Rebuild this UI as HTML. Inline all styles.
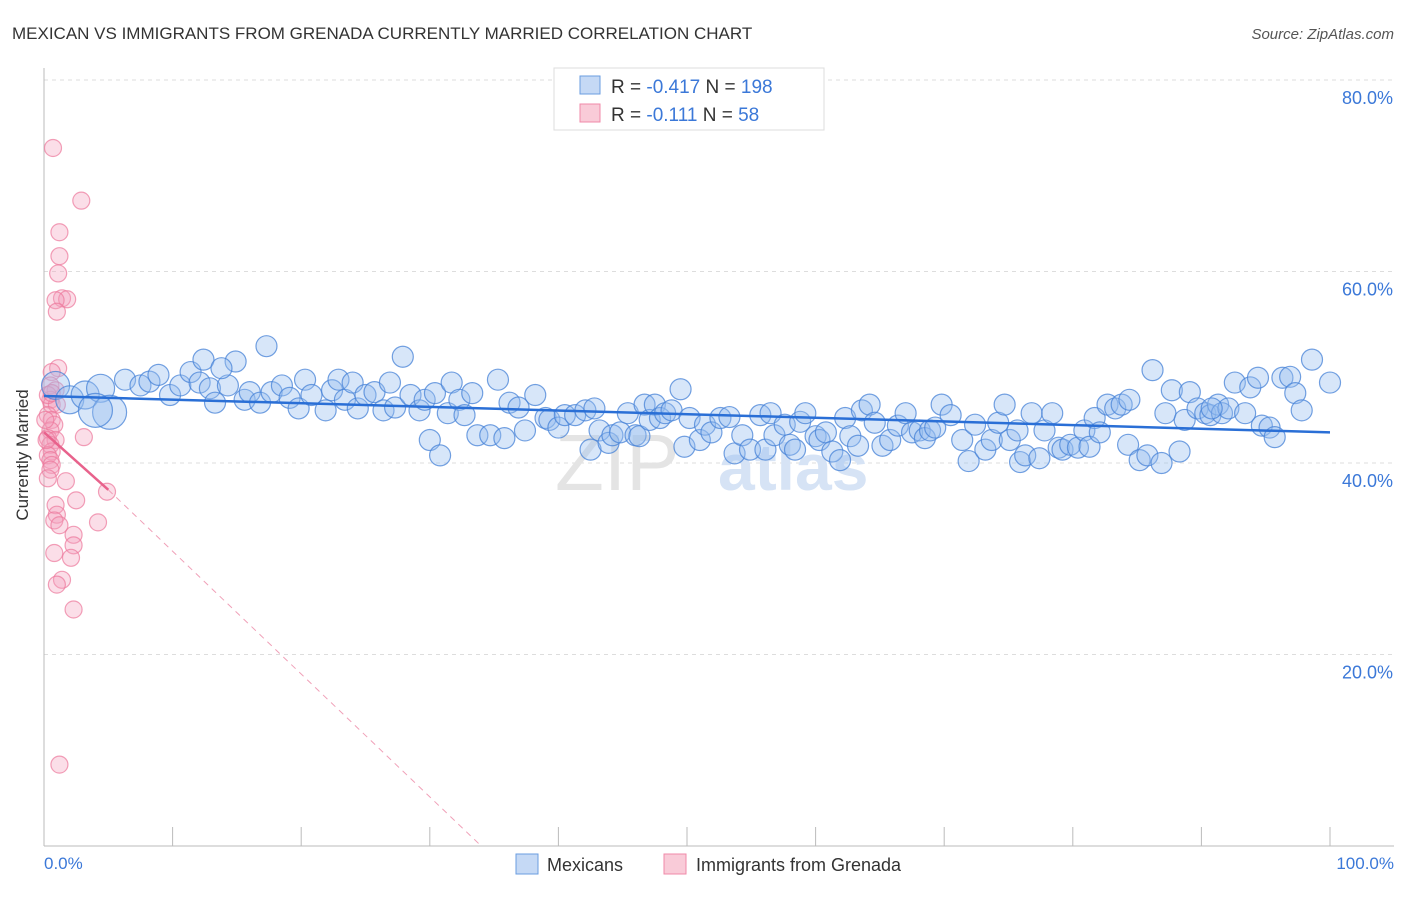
<!DOCTYPE html>
<html><head><meta charset="utf-8"><style>
body{margin:0;background:#fff;font-family:"Liberation Sans",sans-serif}
svg text{font-family:"Liberation Sans",sans-serif}
</style></head><body>
<svg id="chart" width="1406" height="892" xmlns="http://www.w3.org/2000/svg">
<text x="12" y="39" font-size="17" fill="#333">MEXICAN VS IMMIGRANTS FROM GRENADA CURRENTLY MARRIED CORRELATION CHART</text>
<text x="1394" y="39" font-size="15" fill="#555" font-style="italic" text-anchor="end">Source: ZipAtlas.com</text>
<g id="grid"></g>
<text x="555" y="490" font-size="80" fill="#e4e4e4" font-family="Liberation Serif">ZIP</text>
<text x="718" y="490" font-size="66" fill="#d6e3f5" font-weight="bold">atlas</text>
<g id="axes"></g>
<g id="pink"></g>
<g id="blue"></g>
<g id="trends"></g>
<text x="28" y="455" font-size="17" fill="#333" text-anchor="middle" transform="rotate(-90 28 455)">Currently Married</text>
<text x="44" y="869" font-size="17" fill="#3b78d8">0.0%</text>
<text x="1394" y="869" font-size="17" fill="#3b78d8" text-anchor="end">100.0%</text>
<g>
<rect x="554" y="68" width="270" height="62" fill="#fff" stroke="#ddd"/>
<rect x="580" y="76" width="20" height="18" fill="#c5d9f5" stroke="#6a9de0"/>
<rect x="580" y="104" width="20" height="18" fill="#f9cbd8" stroke="#f08aa8"/>
<text x="611" y="93" font-size="19" fill="#333">R = <tspan fill="#3b78d8">-0.417</tspan>   N = <tspan fill="#3b78d8">198</tspan></text>
<text x="611" y="121" font-size="19" fill="#333">R =  <tspan fill="#3b78d8">-0.111</tspan>   N =  <tspan fill="#3b78d8">58</tspan></text>
</g>
<g>
<rect x="516" y="854" width="22" height="20" fill="#c5d9f5" stroke="#6a9de0"/>
<text x="547" y="871" font-size="18" fill="#333">Mexicans</text>
<rect x="664" y="854" width="22" height="20" fill="#f9cbd8" stroke="#f08aa8"/>
<text x="696" y="871" font-size="18" fill="#333">Immigrants from Grenada</text>
</g>
</svg>
<script>
const yTicks=[20,40,60,80];
const yTickLabels=["20.0%","40.0%","60.0%","80.0%"];
const xTicks=[0,10,20,30,40,50,60,70,80,90,100];
const blueData=[[0.9,48.1],[2.0,46.6],[3.2,47.1],[4.4,47.8],[5.1,45.3],[4.0,45.5],[6.3,48.7],[7.5,48.1],[8.2,48.5],[8.9,49.2],[9.8,47.1],[10.6,48.1],[11.4,49.5],[12.1,48.4],[12.4,50.8],[12.9,47.8],[13.3,46.3],[14.3,48.1],[14.9,50.6],[13.8,49.9],[15.6,46.6],[16.0,47.4],[16.8,46.3],[17.3,52.2],[17.7,47.4],[18.5,48.1],[19.1,46.8],[19.8,45.7],[20.3,48.7],[20.8,47.1],[21.9,45.5],[22.4,47.6],[22.9,48.7],[23.4,46.6],[24.0,48.4],[24.4,45.7],[25.0,47.1],[25.7,47.4],[26.4,45.5],[26.9,48.4],[27.3,45.8],[27.9,51.1],[28.5,47.1],[29.2,45.5],[29.6,46.6],[30.0,42.4],[30.4,47.3],[30.8,40.8],[31.4,45.2],[31.7,48.4],[32.3,46.6],[32.7,45.0],[33.3,47.3],[33.7,42.9],[34.7,42.9],[35.3,48.7],[35.8,42.6],[36.2,46.3],[36.9,45.8],[37.4,43.4],[38.2,47.1],[39.0,44.7],[39.3,44.5],[40.0,43.7],[40.5,45.0],[41.3,45.0],[42.1,45.5],[42.5,41.4],[42.8,45.7],[43.2,43.4],[43.9,42.1],[44.2,42.9],[44.8,43.2],[45.4,45.2],[46.0,42.9],[46.3,42.8],[46.7,46.1],[47.1,44.5],[47.5,46.1],[47.9,44.7],[48.3,45.2],[48.8,45.5],[49.5,47.7],[49.8,41.7],[50.2,44.7],[51.0,42.4],[51.4,44.0],[51.9,43.2],[52.6,44.7],[53.3,44.8],[53.7,41.0],[54.3,42.9],[54.9,41.4],[55.7,45.0],[56.1,41.4],[56.5,45.2],[56.8,42.9],[57.6,44.0],[58.0,41.9],[58.4,41.4],[58.8,44.3],[59.2,45.2],[60.0,42.8],[60.3,42.4],[60.8,43.2],[61.3,41.2],[61.9,40.3],[62.3,44.7],[62.7,42.8],[63.3,41.8],[63.6,45.5],[64.2,46.1],[64.6,44.2],[65.2,41.8],[65.8,42.4],[66.4,43.9],[67.0,45.2],[67.5,43.2],[68.1,43.4],[68.5,42.6],[68.9,43.4],[69.3,43.7],[69.8,46.1],[70.5,45.0],[71.4,42.4],[71.9,40.2],[72.4,44.0],[73.2,41.4],[73.7,42.4],[74.2,44.2],[74.7,46.1],[75.1,42.4],[75.7,43.4],[75.9,40.1],[76.3,40.8],[76.8,45.2],[77.4,40.5],[77.8,43.4],[78.4,45.2],[78.9,41.6],[79.2,41.4],[79.8,41.9],[80.4,41.6],[80.9,43.4],[81.3,41.7],[81.7,44.7],[82.1,43.2],[82.7,46.1],[83.3,45.7],[83.8,46.1],[84.4,46.6],[84.3,41.9],[85.2,40.3],[85.8,40.8],[86.2,49.7],[86.9,40.0],[87.2,45.2],[87.7,47.6],[88.3,41.2],[88.7,44.5],[89.1,47.4],[89.7,45.7],[90.3,45.2],[90.7,45.0],[91.3,46.1],[91.6,45.2],[92.1,45.7],[92.6,48.4],[93.4,45.2],[93.8,47.9],[94.4,48.9],[94.7,43.9],[95.3,43.7],[95.7,42.7],[96.3,48.9],[96.9,49.0],[97.3,47.3],[97.8,45.5],[98.6,50.8],[100,48.4],[90.8,45.7]];
const pinkData=[[0.7,72.9],[2.9,67.4],[1.2,64.1],[1.2,61.6],[1.1,59.8],[1.4,57.2],[1.8,57.1],[0.9,57.0],[1.0,55.8],[1.1,49.9],[0.6,49.5],[0.5,48.1],[0.9,47.6],[0.5,46.6],[0.6,46.1],[1.0,46.1],[0.3,45.0],[0.6,44.5],[0.8,44.0],[0.5,43.4],[0.3,42.6],[0.9,42.4],[0.5,41.9],[0.6,41.2],[0.3,40.8],[0.5,40.3],[0.6,39.8],[0.5,39.3],[0.3,38.4],[3.1,42.7],[1.7,38.1],[4.9,37.0],[2.5,36.1],[0.9,35.6],[1.0,34.6],[0.8,34.0],[1.2,33.5],[4.2,33.8],[2.3,32.5],[2.3,31.4],[0.8,30.6],[2.1,30.1],[1.4,27.8],[1.0,27.3],[2.3,24.7],[1.2,8.5],[0.1,44.5],[0.2,42.4],[0.3,47.1],[0.6,47.3]];
const blueTrend=[[0,47.0],[100,43.2]];
const pinkTrendSolid=[[0,43.2],[5,37.2]];
const pinkTrendDash=[[5,37.2],[34,0]];
const X=v=>44+v*12.86, Y=v=>846-v*9.575;
const NS="http://www.w3.org/2000/svg";
function mk(tag,attrs,parent){const e=document.createElementNS(NS,tag);for(const k in attrs)e.setAttribute(k,attrs[k]);parent.appendChild(e);return e;}
const grid=document.getElementById('grid'),axes=document.getElementById('axes');
yTicks.forEach((t,i)=>{
  const l=mk('line',{x1:44,x2:1394,y1:Y(t),y2:Y(t),stroke:'#ddd','stroke-dasharray':'4,4'},grid);
  
  
  const tx=mk('text',{x:1393,y:Y(t)+24,'font-size':18,fill:'#3b78d8','text-anchor':'end'},grid);
  tx.textContent=yTickLabels[i];
  
  
});
const ax=mk('line',{x1:44,x2:1394,y1:846,y2:846,stroke:'#bbb'},axes);


const ay=mk('line',{x1:44,x2:44,y1:68,y2:846,stroke:'#bbb'},axes);


xTicks.forEach(t=>{
  const l=mk('line',{x1:X(t),x2:X(t),y1:827,y2:846,stroke:'#bbb'},axes);
  
  
});
const pg=document.getElementById('pink');
pinkData.forEach(d=>{
  const c=mk('circle',{cx:X(d[0]),cy:Y(d[1]),r:8.5,fill:'rgba(244,160,188,0.35)',stroke:'rgba(236,120,155,0.7)','stroke-width':1.2},pg);
  
  
});
const bg=document.getElementById('blue');
blueData.forEach((d,i)=>{
  const r=i<6?(i==4||i==5?17:14):10.5;
  const c=mk('circle',{cx:X(d[0]),cy:Y(d[1]),r:r,fill:'rgba(150,190,240,0.38)',stroke:'rgba(70,130,215,0.75)','stroke-width':1.2},bg);
  
  
});
const tg=document.getElementById('trends');
const bt=mk('line',{x1:X(blueTrend[0][0]),y1:Y(blueTrend[0][1]),x2:X(blueTrend[1][0]),y2:Y(blueTrend[1][1]),stroke:'#2a6fd6','stroke-width':2.5},tg);


const ps=mk('line',{x1:X(pinkTrendSolid[0][0]),y1:Y(pinkTrendSolid[0][1]),x2:X(pinkTrendSolid[1][0]),y2:Y(pinkTrendSolid[1][1]),stroke:'#e8628c','stroke-width':2.5},tg);


const pd=mk('line',{x1:X(pinkTrendDash[0][0]),y1:Y(pinkTrendDash[0][1]),x2:X(pinkTrendDash[1][0]),y2:Y(pinkTrendDash[1][1]),stroke:'#f0a0b8','stroke-width':1,'stroke-dasharray':'6,5'},tg);


</script>
</body></html>
